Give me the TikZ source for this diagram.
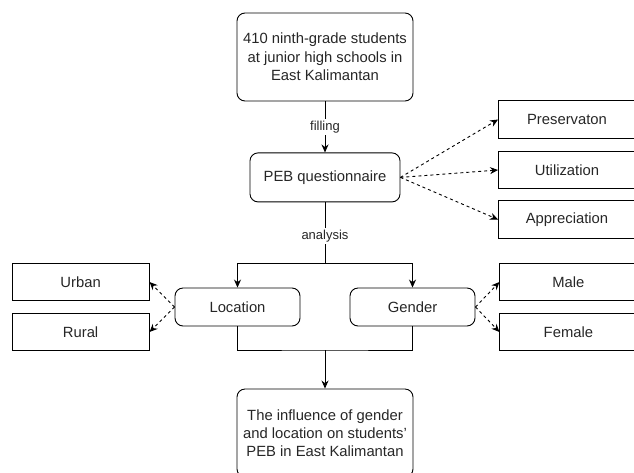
\documentclass[tikz,border=0pt]{standalone}
\usepackage{fontspec}
\setmainfont{Liberation Sans}
\usetikzlibrary{positioning, arrows.meta}

\begin{document}
\begin{tikzpicture}[x=1pt, y=-1pt, >={Stealth[length=8pt, width=7pt]}, line width=0.9pt, every node/.style={font=\fontsize{14.8}{18.3}\selectfont, text=black!85}]
\tikzstyle{rbox}=[draw, rounded corners=8pt, align=center, inner sep=0pt]
\tikzstyle{sbox}=[draw, rectangle, align=center, minimum width=137pt, minimum height=37.5pt, inner sep=0pt]
\tikzstyle{lbl}=[fill=white, font=\fontsize{13}{15}\selectfont, inner sep=2pt]
\clip (0,0) rectangle (634,472);
\node[rbox, minimum width=176pt, minimum height=88pt] (sample) at (325,57) {410 ninth-grade students\\at junior high schools in\\East Kalimantan};
\node[rbox, minimum width=150pt, minimum height=49pt, below=51pt of sample] (peb) {PEB questionnaire};
\node[sbox] (pres) at (567,119.5) {Preservaton};
\node[sbox] (util) at (567,170) {Utilization};
\node[sbox] (appr) at (567,219.5) {Appreciation};
\node[rbox, minimum width=125pt, minimum height=38pt] (loc) at (237.5,307) {Location};
\node[rbox, minimum width=125pt, minimum height=38pt] (gend) at (412.5,307) {Gender};
\node[sbox, left=25pt of loc, yshift=-25pt] (rural) {Rural};
\node[sbox, left=25pt of loc, yshift=25pt] (urban) {Urban};
\node[sbox, right=24pt of gend, yshift=25pt] (male) {Male};
\node[sbox, right=24pt of gend, yshift=-25pt] (female) {Female};
\node[rbox, minimum width=176pt, minimum height=88pt] (result) at (325,433) {The influence of gender\\and location on students'\\PEB in East Kalimantan};
\coordinate (split) at (325,263);
\coordinate (merge) at (325,350);
% flow
\draw[->] (sample) -- node[lbl]{filling} (peb);
\draw (peb) -- node[lbl, pos=0.55]{analysis} (split);
\draw[->] (split) -| (loc);
\draw[->] (split) -| (gend);
\draw (loc) |- (merge) -| (gend);
\draw[->] (merge) -- (result);
% aspects
\draw[->, dashed] (peb.east) -- (pres.west);
\draw[->, dashed] (peb.east) -- (util.west);
\draw[->, dashed] (peb.east) -- (appr.west);
\draw[->, dashed] (loc.west) -- (urban.east);
\draw[->, dashed] (loc.west) -- (rural.east);
\draw[->, dashed] (gend.east) -- (male.west);
\draw[->, dashed] (gend.east) -- (female.west);
\end{tikzpicture}
\end{document}
